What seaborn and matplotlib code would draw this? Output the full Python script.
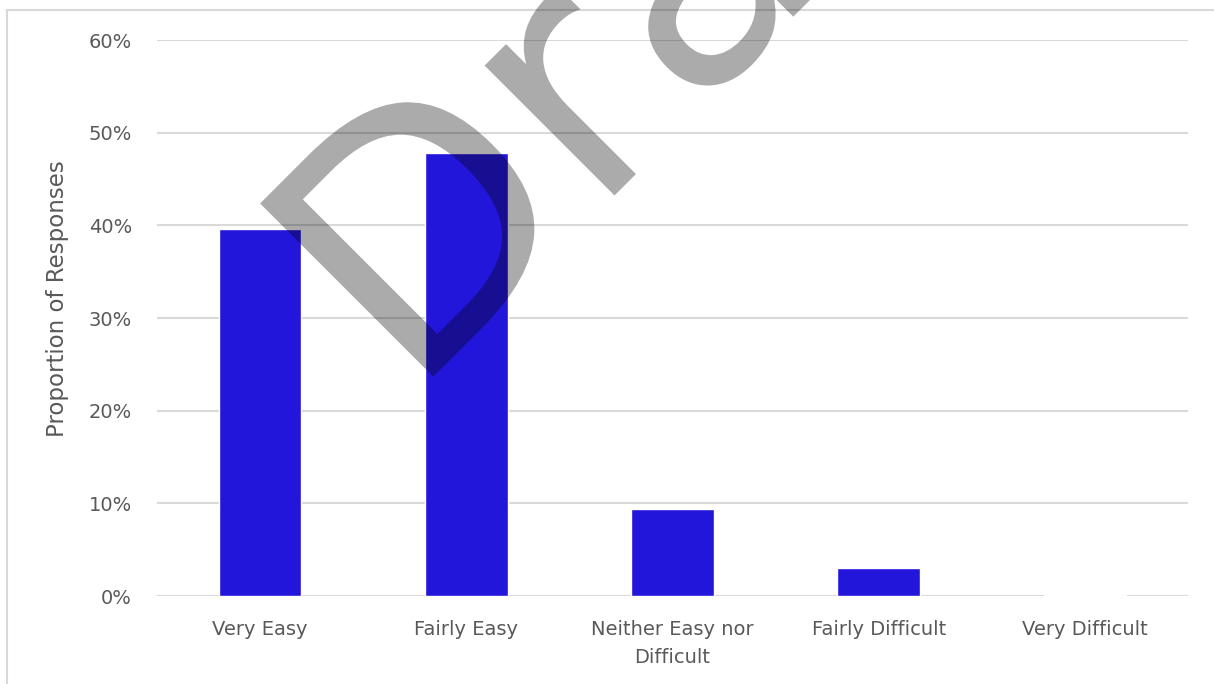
import matplotlib
matplotlib.use("Agg")
import matplotlib.pyplot as plt
import seaborn as sns
import pandas as pd
from matplotlib.patches import Rectangle, PathPatch
from matplotlib.textpath import TextPath
from matplotlib.font_manager import FontProperties
from matplotlib.transforms import Affine2D
from matplotlib.ticker import PercentFormatter

categories = ["Very Easy", "Fairly Easy", "Neither Easy nor\nDifficult",
              "Fairly Difficult", "Very Difficult"]
proportions = [0.396, 0.478, 0.094, 0.030, 0.001]
y_ticks = [0.0, 0.1, 0.2, 0.3, 0.4, 0.5, 0.6]

BAR = "#2316DB"
TEXT = "#595959"
GRID = "#D9D9D9"
FONT = ["DejaVu Sans"]

sns.set_theme(style="white")
plt.rcParams["font.family"] = FONT

W, H = 1214, 684
fig = plt.figure(figsize=(W / 100, H / 100), dpi=100)
ax = fig.add_axes([157 / W, 1 - 596 / H, (1188 - 157) / W, (596 - 40) / H])

df = pd.DataFrame({"category": categories, "proportion": proportions})
sns.barplot(data=df, x="category", y="proportion", color=BAR, width=0.4,
            saturation=1, ax=ax, zorder=3)

ax.set_ylim(0, 0.6)
ax.set_yticks(y_ticks)
ax.yaxis.set_major_formatter(PercentFormatter(1.0, decimals=0))
ax.grid(axis="y", color=GRID, linewidth=1.5, zorder=0)
ax.set_axisbelow(True)
for s in ax.spines.values():
    s.set_visible(False)
ax.tick_params(axis="both", length=0, colors=TEXT, labelsize=14)
ax.tick_params(axis="y", pad=18)
ax.tick_params(axis="x", pad=17)
for lbl in ax.get_xticklabels():
    lbl.set_linespacing(1.65)
ax.set_xlabel("")
ax.set_ylabel("Proportion of Responses", color=TEXT, fontsize=16.5)
ax.yaxis.set_label_coords(-0.085, 0.534)

# chart-area frame, running off the right and bottom edges
fig.add_artist(Rectangle((7 / W, -0.1), 1.2, (H - 10) / H + 0.1,
                         transform=fig.transFigure, fill=False,
                         edgecolor=GRID, linewidth=1.5, clip_on=False))

# "Draft" watermark rotated 45 degrees
tp = TextPath((0, 0), "Draft", size=336,
              prop=FontProperties(family="DejaVu Sans"))
wm_tr = Affine2D().rotate_deg(45).translate(410, H - 400)
fig.add_artist(PathPatch(tp, transform=wm_tr, facecolor="black",
                         edgecolor="none", alpha=0.33, zorder=10))

fig.savefig("out.png", dpi=100)
